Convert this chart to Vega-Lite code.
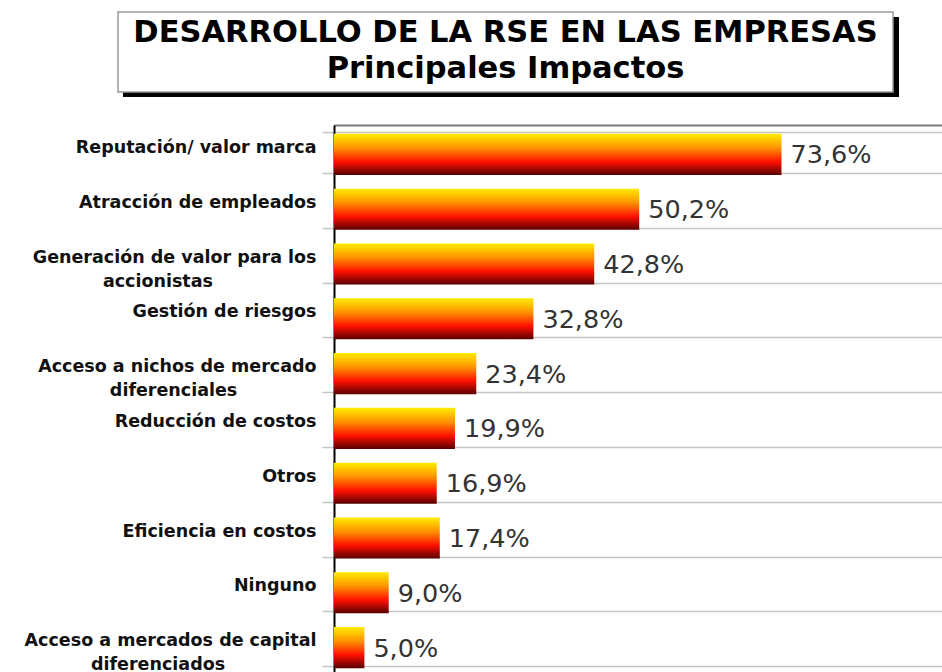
{
  "$schema": "https://vega.github.io/schema/vega-lite/v6.json",
  "padding": {"left": 18, "top": 11, "right": 0, "bottom": 0},
  "background": "white",
  "spacing": 19,
  "config": {
    "view": {"stroke": null},
    "locale": {"number": {"decimal": ",", "thousands": ".", "grouping": [3], "currency": ["", " €"]}}
  },
  "vconcat": [
    {
      "width": 559,
      "height": 80,
      "data": {"values": [{"t": "titulo"}]},
      "layer": [
        {"mark": {"type": "rect", "fill": "#000000", "xOffset": -211, "x2Offset": 6, "yOffset": 5, "y2Offset": 5},
         "encoding": {"x": {"value": 0}, "x2": {"value": "width"}, "y": {"value": 0}, "y2": {"value": "height"}}},
        {"mark": {"type": "rect", "fill": "white", "stroke": "#9a9a9a", "strokeWidth": 1.5, "xOffset": -216},
         "encoding": {"x": {"value": 0}, "x2": {"value": "width"}, "y": {"value": 0}, "y2": {"value": "height"}}},
        {"mark": {"type": "text", "text": ["DESARROLLO DE LA RSE  EN LAS EMPRESAS", "Principales Impactos"], "font": "DejaVu Sans", "fontWeight": "bold", "fontSize": 30.5, "lineHeight": 36, "baseline": "middle", "align": "center", "dx": -108, "dy": -19, "color": "#000000"}, "encoding": {}}
      ]
    },
    {
      "width": 608,
      "height": 548,
      "data": {"values": [
        {"impacto": "Reputación/ valor marca", "valor": 0.736},
        {"impacto": "Atracción de empleados", "valor": 0.502},
        {"impacto": "Generación de valor para los|accionistas", "valor": 0.428},
        {"impacto": "Gestión de riesgos", "valor": 0.328},
        {"impacto": "Acceso a nichos de mercado|diferenciales", "valor": 0.234},
        {"impacto": "Reducción de costos", "valor": 0.199},
        {"impacto": "Otros", "valor": 0.169},
        {"impacto": "Eficiencia en costos", "valor": 0.174},
        {"impacto": "Ninguno", "valor": 0.090},
        {"impacto": "Acceso a mercados de capital|diferenciados", "valor": 0.050}
      ]},
      "encoding": {
        "y": {
          "field": "impacto", "type": "nominal", "sort": null,
          "scale": {"paddingInner": 0.25, "paddingOuter": 0.125},
          "axis": {
            "title": null, "domainColor": "#000000", "domainWidth": 2,
            "tickBand": "extent", "grid": true, "gridColor": "#c4c4c4", "gridWidth": 1.5,
            "tickColor": "#c4c4c4", "tickWidth": 1.5, "tickSize": 12, "labelPadding": 6,
            "labelFont": "DejaVu Sans", "labelFontWeight": "bold", "labelFontSize": 17.5,
            "labelColor": "#111111", "labelLimit": 0, "labelLineHeight": 24, "labelOffset": -5,
            "labelExpr": "length(split(datum.label,'|')) > 1 ? [split(datum.label,'|')[0], pad(split(datum.label,'|')[1], length(split(datum.label,'|')[1]) + round(1.0*(length(split(datum.label,'|')[0]) - length(split(datum.label,'|')[1]))), '\\u00a0') + '\\u200b'] : datum.label",
            "minExtent": 316, "maxExtent": 316
          }
        }
      },
      "layer": [
        {
          "mark": {
            "type": "bar", "yOffset": 2,
            "fill": {"gradient": "linear", "x1": 0, "y1": 0, "x2": 0, "y2": 1,
              "stops": [
                {"offset": 0, "color": "#ffec00"},
                {"offset": 0.35, "color": "#ff9000"},
                {"offset": 0.68, "color": "#ff1000"},
                {"offset": 1, "color": "#580000"}
              ]}
          },
          "encoding": {
            "x": {"field": "valor", "type": "quantitative", "scale": {"domain": [0, 0.975]},
              "axis": {"orient": "top", "labels": false, "ticks": false, "grid": false, "title": null, "domainColor": "#7a7a7a", "domainWidth": 2, "minExtent": 0, "maxExtent": 1}}
          }
        },
        {
          "mark": {"type": "text", "align": "left", "baseline": "middle", "dx": 9, "dy": 3, "font": "DejaVu Sans", "fontSize": 25.5, "color": "#333333"},
          "encoding": {
            "x": {"field": "valor", "type": "quantitative"},
            "text": {"field": "valor", "type": "quantitative", "format": ".1%"}
          }
        }
      ]
    }
  ]
}
